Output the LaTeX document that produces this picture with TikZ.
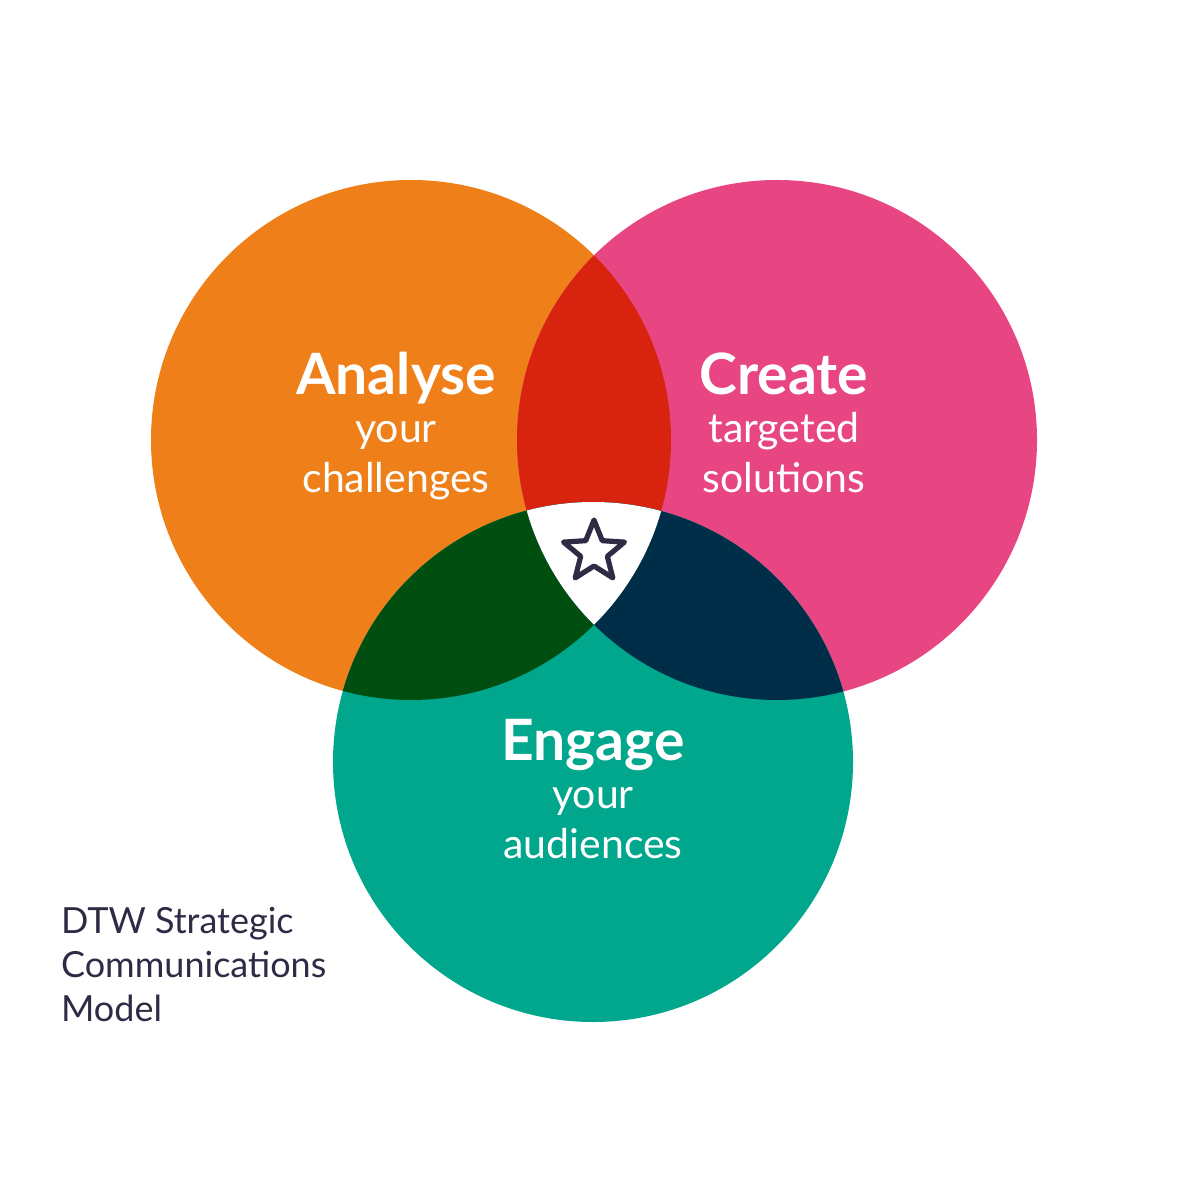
\documentclass[tikz,border=0pt]{standalone}
\usepackage{fontspec}
\setmainfont{Lato}
\definecolor{cor}{HTML}{EF8019}
\definecolor{cpk}{HTML}{E84683}
\definecolor{ctl}{HTML}{00A78D}
\definecolor{cred}{HTML}{D8230F}
\definecolor{cgr}{HTML}{004F10}
\definecolor{cnv}{HTML}{002E48}
\definecolor{ctx}{HTML}{2E2B45}
\begin{document}
\begin{tikzpicture}[x=0.5pt,y=-0.5pt,
 head/.style={text=white,font=\fontsize{28.5}{30}\selectfont\bfseries,anchor=base},
 sub/.style={text=white,font=\fontsize{20.5}{22}\selectfont,anchor=base},
 note/.style={text=ctx,font=\fontsize{18}{22}\selectfont,anchor=base west}]
\useasboundingbox (0,0) rectangle (1186,1186);
\def\A{(411,440) circle[radius=260]}
\def\B{(777,440) circle[radius=260]}
\def\C{(593,762) circle[radius=260]}
\fill[cor] \A; \fill[cpk] \B; \fill[ctl] \C;
\begin{scope}\clip \A; \fill[cred] \B; \end{scope}
\begin{scope}\clip \A; \fill[cgr] \C; \end{scope}
\begin{scope}\clip \B; \fill[cnv] \C; \end{scope}
\begin{scope}\clip \A; \clip \B; \fill[white] \C; \end{scope}
\draw[ctx,line width=2.6pt,line join=round]
 plot[samples at={0,...,10}] ({594+ (mod(\x,2)==0 ? 32 : 14)*sin(\x*36)}, {552- (mod(\x,2)==0 ? 32 : 14)*cos(\x*36)}) -- cycle;
\node[head] (a) at (396,395) {Analyse};
\node[sub] (a1) at (396,443) {your};
\node[sub] (a2) at (396,493) {challenges};
\node[head] (c) at (784,395) {Create};
\node[sub] (c1) at (784,443) {targeted};
\node[sub] (c2) at (784,493) {solutions};
\node[head] (e) at (593,760) {Engage};
\node[sub] (e1) at (593,808) {your};
\node[sub] (e2) at (593,858) {audiences};
\node[note] (n1) at (54,933) {DTW Strategic};
\node[note] (n2) at (54,977) {Communications};
\node[note] (n3) at (54,1021) {Model};
\end{tikzpicture}
\end{document}
